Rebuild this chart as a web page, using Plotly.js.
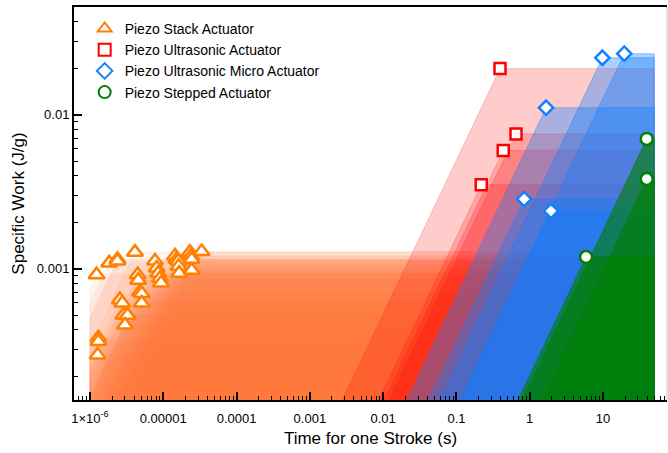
<!DOCTYPE html>
<html>
<head>
<meta charset="utf-8">
<script src="https://cdn.plot.ly/plotly-3.0.1.min.js"></script>
<style>html,body{margin:0;padding:0;background:#fff;}#chart{width:668px;height:453px;}</style>
</head>
<body>
<div id="chart"></div>
<script>
// ---- data (time for one stroke in s, specific work in J/g) ----
const stackTime = [1.23e-6, 1.30e-6, 1.30e-6, 1.27e-6, 1.83e-6, 2.37e-6, 2.37e-6, 4.11e-6, 2.56e-6, 2.76e-6, 2.86e-6,
  3.25e-6, 3.0e-6, 4.48e-6, 4.56e-6, 4.81e-6, 5.07e-6, 5.07e-6, 7.71e-6, 8.13e-6, 8.55e-6, 9.02e-6, 9.31e-6,
  1.445e-5, 1.52e-5, 1.60e-5, 1.62e-5, 1.65e-5, 2.31e-5, 2.39e-5, 2.44e-5, 2.44e-5, 3.34e-5];
const stackWork = [9.14e-4, 3.56e-4, 3.36e-4, 2.75e-4, 1.09e-3, 1.15e-3, 1.12e-3, 1.28e-3, 6.29e-4, 5.98e-4, 4.99e-4,
  4.99e-4, 4.30e-4, 9.14e-4, 8.42e-4, 7.04e-4, 6.9e-4, 5.98e-4, 1.12e-3, 1.01e-3, 9.35e-4, 8.67e-4, 8.07e-4,
  1.21e-3, 1.15e-3, 1.12e-3, 1.035e-3, 9.35e-4, 1.28e-3, 1.21e-3, 1.15e-3, 9.78e-4, 1.29e-3];
const ultraTime = [0.393, 0.65, 0.435, 0.218];
const ultraWork = [0.0199, 0.0075, 0.00586, 0.0035];
const microTime = [9.8, 19.5, 1.67, 0.84, 1.95];
const microWork = [0.0234, 0.0249, 0.0111, 0.00283, 0.00237];
const steppedTime = [39.5, 39.5, 5.87];
const steppedWork = [0.00695, 0.00382, 0.00119];

const seriesNames = ['Piezo Stack Actuator', 'Piezo Ultrasonic Actuator', 'Piezo Ultrasonic Micro Actuator', 'Piezo Stepped Actuator'];
const xTickVals = [1e-6, 1e-5, 1e-4, 1e-3, 1e-2, 1e-1, 1, 10];
const xTickText = ['1×10<sup>-6</sup>', '0.00001', '0.0001', '0.001', '0.01', '0.1', '1', '10'];
const yTickVals = [0.001, 0.01];
const yTickText = ['0.001', '0.01'];

// envelope limits (time range covered by the shaded regions)
const envLeft = 1e-6, envRight = 50, envFloor = 1e-4;

const styles = [
  {marker: 'rgb(255,127,0)', fill: 'rgba(255,118,50,0.08)', symbol: 'triangle-up', size: 14},
  {marker: 'rgb(255,0,0)', fill: 'rgba(255,0,0,0.2)', symbol: 'square', size: 11},
  {marker: 'rgb(18,128,255)', fill: 'rgba(18,125,255,0.36)', symbol: 'diamond', size: 11},
  {marker: 'rgb(0,128,0)', fill: 'rgba(0,128,0,0.62)', symbol: 'circle', size: 12}
];
const series = [[stackTime, stackWork], [ultraTime, ultraWork], [microTime, microWork], [steppedTime, steppedWork]];

function envelope(t, w) {
  // region reachable with max work w and max power w/t (slope 1 on log-log)
  const xb = t * envFloor / w;
  if (xb >= envLeft) {
    return {x: [xb, t, envRight, envRight, xb], y: [envFloor, w, w, envFloor, envFloor]};
  }
  const yl = w * envLeft / t;
  return {x: [envLeft, envLeft, t, envRight, envRight, envLeft], y: [envFloor, yl, w, w, envFloor, envFloor]};
}

const traces = [];
series.forEach((s, si) => {
  s[0].forEach((t, i) => {
    const p = envelope(t, s[1][i]);
    traces.push({x: p.x, y: p.y, type: 'scatter', mode: 'lines', fill: 'toself',
      fillcolor: styles[si].fill, line: {color: styles[si].fill, width: 1},
      showlegend: false, hoverinfo: 'skip'});
  });
});
series.forEach((s, si) => {
  traces.push({x: s[0], y: s[1], type: 'scatter', mode: 'markers', name: seriesNames[si],
    marker: {symbol: styles[si].symbol, size: styles[si].size, color: 'white',
      line: {color: styles[si].marker, width: 2.5}}, cliponaxis: false});
});

const minorX = [];
for (let e = -7; e <= 1; e++) for (let m = 2; m <= 9; m++) minorX.push(m * Math.pow(10, e));
const minorY = [];
for (let e = -4; e <= -2; e++) for (let m = 2; m <= 9; m++) minorY.push(m * Math.pow(10, e));

const layout = {
  width: 668, height: 453,
  margin: {l: 74, r: 1, t: 7, b: 53},
  paper_bgcolor: 'white', plot_bgcolor: 'white',
  font: {family: 'Liberation Sans, Arial, sans-serif', color: 'black', size: 13},
  showlegend: true,
  legend: {x: 0.018, y: 0.985, xanchor: 'left', yanchor: 'top', bgcolor: 'rgba(0,0,0,0)',
    font: {size: 14, color: 'black'}, tracegroupgap: 0, itemsizing: 'constant'},
  xaxis: {type: 'log', range: [-6.218, 1.873], showgrid: false, zeroline: false,
    showline: true, linecolor: 'black', linewidth: 2, mirror: true,
    ticks: 'inside', ticklen: 8, tickwidth: 2, tickcolor: 'black',
    tickvals: xTickVals, ticktext: xTickText, tickfont: {size: 13}, ticklabelstandoff: 5,
    minor: {tickvals: minorX, ticks: 'inside', ticklen: 4, tickwidth: 1, tickcolor: 'black', showgrid: false},
    title: {text: 'Time for one Stroke (s)', font: {size: 17}, standoff: 8}},
  yaxis: {type: 'log', range: [-3.853, -1.301], showgrid: false, zeroline: false,
    showline: true, linecolor: 'black', linewidth: 2,
    ticks: 'inside', ticklen: 8, tickwidth: 2, tickcolor: 'black',
    tickvals: yTickVals, ticktext: yTickText, tickfont: {size: 13},
    minor: {tickvals: minorY, ticks: 'inside', ticklen: 4, tickwidth: 1, tickcolor: 'black', showgrid: false},
    title: {text: 'Specific Work (J/g)', font: {size: 17}, standoff: 8}},
  shapes: [{type: 'line', xref: 'paper', yref: 'paper', x0: 1, x1: 1, y0: 0, y1: 1,
    line: {color: '#c8c8c8', width: 1}}]
};

Plotly.newPlot('chart', traces, layout, {staticPlot: true, displayModeBar: false});
</script>
</body>
</html>
